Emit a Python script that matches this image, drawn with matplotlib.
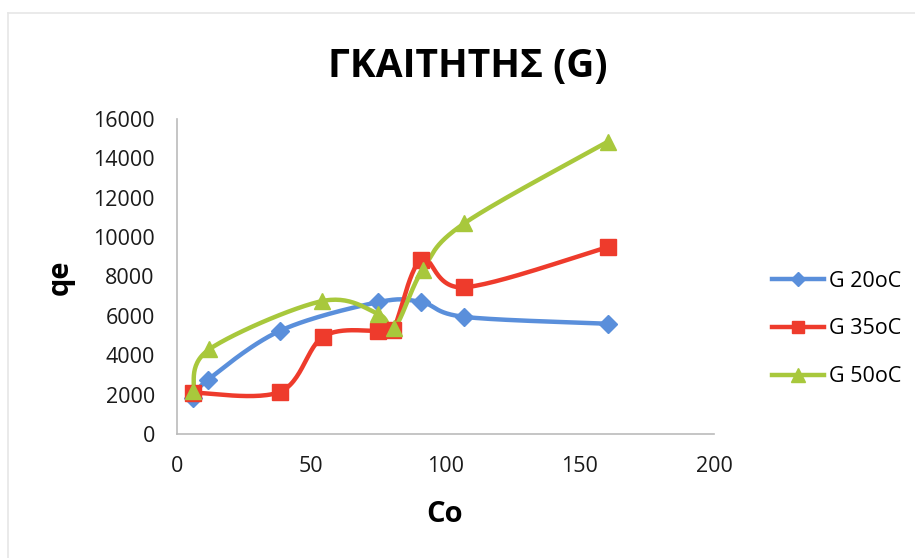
import numpy as np
import matplotlib
matplotlib.use("Agg")
import matplotlib.pyplot as plt
from matplotlib.lines import Line2D

# ---- data ----
title = "ΓΚΑΙΤΗΤΗΣ (G)"
x_label = "Co"
y_label = "qe"

g20_x = [6, 11.5, 38.5, 75, 91, 107, 160.5]
g20_y = [1850, 2750, 5250, 6700, 6700, 5950, 5600]

g35_x = [6, 38.5, 54.5, 75, 80.5, 91, 107, 160.5]
g35_y = [2100, 2150, 4950, 5250, 5300, 8850, 7450, 9500]

g50_x = [6, 12, 54, 75, 81, 91.5, 107, 160.5]
g50_y = [2200, 4300, 6750, 6100, 5400, 8350, 10700, 14850]

series_labels = ["G 20oC", "G 35oC", "G 50oC"]
x_ticks = [0, 50, 100, 150, 200]
y_ticks = [0, 2000, 4000, 6000, 8000, 10000, 12000, 14000, 16000]

colors = ["#5A8FDB", "#EE3B2C", "#A8C83C"]
markers = ["D", "s", "^"]
msizes = [9.5, 11, 12]

FONT = "Open Sans"
plt.rcParams["font.family"] = [FONT, "DejaVu Sans"]


def smooth(xs, ys, n=30):
    """Excel-like smoothed line (Catmull-Rom / cubic Bezier through points)."""
    P = np.column_stack([xs, ys]).astype(float)
    out = [P[0]]
    for i in range(len(P) - 1):
        p0 = P[i - 1] if i > 0 else P[i]
        p1 = P[i]
        p2 = P[i + 1]
        p3 = P[i + 2] if i + 2 < len(P) else P[i + 1]
        c1 = p1 + (p2 - p0) / 6.0
        c2 = p2 - (p3 - p1) / 6.0
        t = np.linspace(0, 1, n)[1:, None]
        b = ((1 - t) ** 3) * p1 + 3 * ((1 - t) ** 2) * t * c1 + 3 * (1 - t) * t ** 2 * c2 + t ** 3 * p2
        out.extend(b)
    out = np.array(out)
    return out[:, 0], out[:, 1]


fig = plt.figure(figsize=(9.15, 5.58), dpi=100)
ax = fig.add_axes([177 / 915, 1 - 434 / 558, (714 - 177) / 915, (434 - 119) / 558])

data = [(g20_x, g20_y), (g35_x, g35_y), (g50_x, g50_y)]
handles = []
for (xs, ys), c, m, ms, lab in zip(data, colors, markers, msizes, series_labels):
    sx, sy = smooth(xs, ys)
    ax.plot(sx, sy, color=c, lw=3.2, solid_capstyle="round", zorder=2)
    ax.plot(xs, ys, linestyle="none", marker=m, markersize=ms, color=c, zorder=3)
    handles.append(Line2D([], [], color=c, lw=3.2, marker=m, markersize=ms * 0.8, label=lab))

ax.set_xlim(0, 200)
ax.set_ylim(0, 16000)
ax.set_xticks(x_ticks)
ax.set_yticks(y_ticks)
ax.set_xticklabels([str(v) for v in x_ticks])
ax.set_yticklabels([str(v) for v in y_ticks])
ax.tick_params(axis="both", length=0, labelsize=15.5, colors="#1a1a1a")
ax.tick_params(axis="y", pad=16)
ax.tick_params(axis="x", pad=16)
for s in ["top", "right"]:
    ax.spines[s].set_visible(False)
for s in ["left", "bottom"]:
    ax.spines[s].set_color("#BBBBBB")
    ax.spines[s].set_linewidth(1.2)

fig.text(468 / 915, 1 - 66 / 558, title, ha="center", va="center", fontsize=28, fontweight="bold")
fig.text(445 / 915, 1 - 515 / 558, x_label, ha="center", va="center", fontsize=21, fontweight="bold")
fig.text(60 / 915, 1 - 277 / 558, y_label, ha="center", va="center", fontsize=21, fontweight="bold", rotation=90)

fig.legend(handles=handles, loc="center left", bbox_to_anchor=(772 / 915, 1 - 329 / 558),
           frameon=False, fontsize=15.5, handlelength=2.4, handletextpad=0.25, labelspacing=1.25,
           borderpad=0, borderaxespad=0)

# faint chart border
fig.add_artist(Line2D([8 / 915, 1], [1 - 13 / 558, 1 - 13 / 558], color="#E6E6E6", lw=1.2))
fig.add_artist(Line2D([8 / 915, 8 / 915], [0, 1 - 13 / 558], color="#E6E6E6", lw=1.2))

fig.savefig("out.png", dpi=100)
